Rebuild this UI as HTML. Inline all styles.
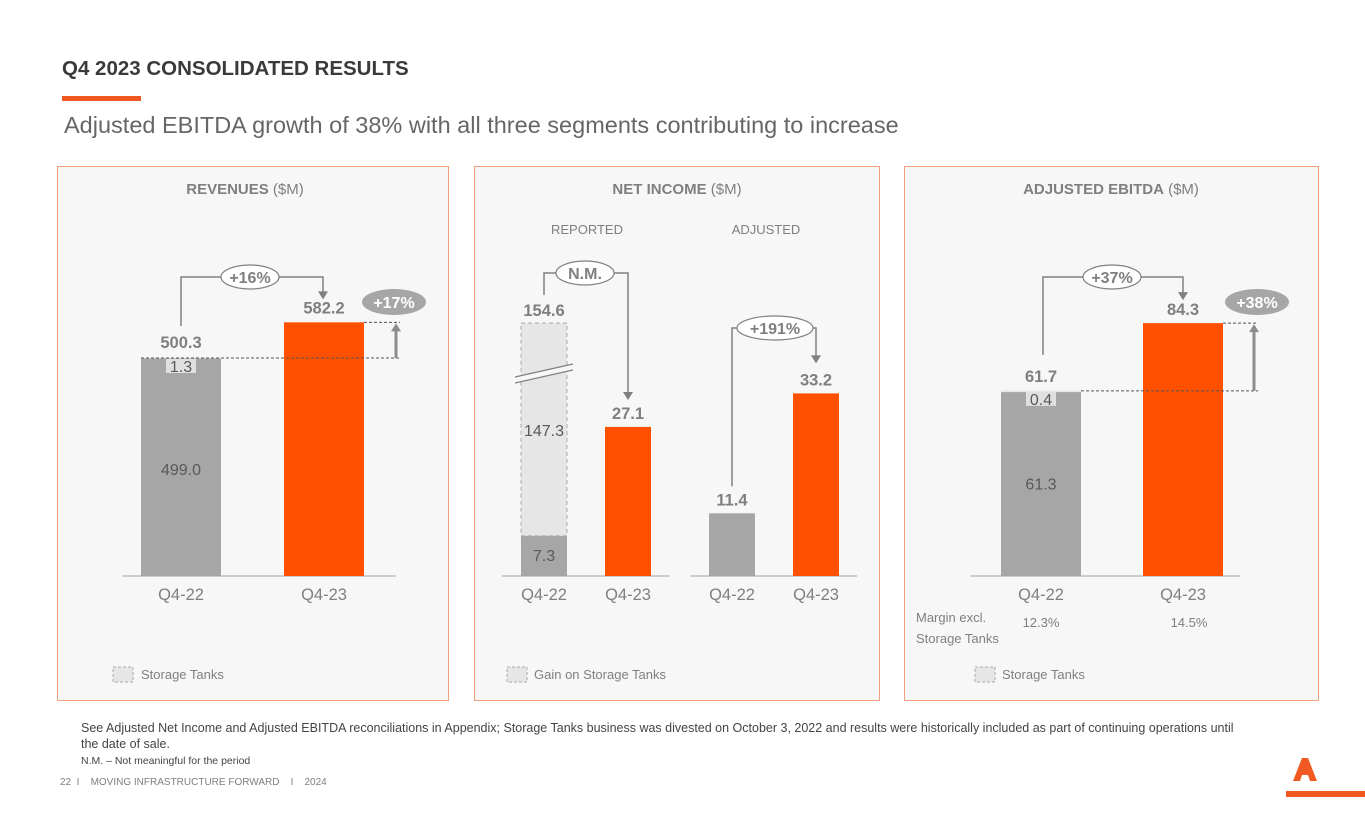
<!DOCTYPE html>
<html><head><meta charset="utf-8"><style>
body{margin:0;width:1365px;height:829px;background:#fff;overflow:hidden;font-family:"Liberation Sans",sans-serif}
svg text{font-family:"Liberation Sans",sans-serif}
</style></head><body>
<svg id="s" width="1365" height="829" viewBox="0 0 1365 829">
<text x="62" y="75" font-size="20.5" font-weight="bold" fill="#3a3a3a">Q4 2023 CONSOLIDATED RESULTS</text>
<rect x="62" y="96" width="79" height="5" fill="#f05a22"/>
<text x="64" y="133" font-size="23.5" fill="#666">Adjusted EBITDA growth of 38% with all three segments contributing to increase</text>

<rect x="57.5" y="166.5" width="391" height="534" fill="#f7f7f7" stroke="#f0a07a"/>
<rect x="474.5" y="166.5" width="405" height="534" fill="#f7f7f7" stroke="#f0a07a"/>
<rect x="904.5" y="166.5" width="414" height="534" fill="#f7f7f7" stroke="#f0a07a"/>

<text x="245" y="194" font-size="15" text-anchor="middle" fill="#7f7f7f"><tspan font-weight="bold">REVENUES</tspan> ($M)</text>
<text x="677" y="194" font-size="15" text-anchor="middle" fill="#7f7f7f"><tspan font-weight="bold">NET INCOME</tspan> ($M)</text>
<text x="1111" y="194" font-size="15" text-anchor="middle" fill="#7f7f7f"><tspan font-weight="bold">ADJUSTED EBITDA</tspan> ($M)</text>
<text x="587" y="234" font-size="13" text-anchor="middle" fill="#7f7f7f">REPORTED</text>
<text x="766" y="234" font-size="13" text-anchor="middle" fill="#7f7f7f">ADJUSTED</text>

<g id="marks"></g>

<text x="916" y="622" font-size="13" fill="#7f7f7f">Margin excl.</text>
<text x="916" y="643" font-size="13" fill="#7f7f7f">Storage Tanks</text>

<rect x="113" y="667" width="20" height="15" fill="#e6e6e6" stroke="#aaa" stroke-dasharray="3,2"/>
<text x="141" y="679" font-size="13" fill="#7f7f7f">Storage Tanks</text>
<rect x="507" y="667" width="20" height="15" fill="#e6e6e6" stroke="#aaa" stroke-dasharray="3,2"/>
<text x="534" y="679" font-size="13" fill="#7f7f7f">Gain on Storage Tanks</text>
<rect x="975" y="667" width="20" height="15" fill="#e6e6e6" stroke="#aaa" stroke-dasharray="3,2"/>
<text x="1002" y="679" font-size="13" fill="#7f7f7f">Storage Tanks</text>

<text x="81" y="732" font-size="12.5" fill="#444">See Adjusted Net Income and Adjusted EBITDA reconciliations in Appendix; Storage Tanks business was divested on October 3, 2022 and results were historically included as part of continuing operations until</text>
<text x="81" y="748" font-size="12.5" fill="#444">the date of sale.</text>
<text x="81" y="764" font-size="10.5" fill="#444">N.M. – Not meaningful for the period</text>
<text x="60" y="785" font-size="10" fill="#7f7f7f" xml:space="preserve" style="white-space:pre">22  I    MOVING INFRASTRUCTURE FORWARD    I    2024</text>
<polygon points="1293,781 1302,758 1308,758 1317,781 1310,781 1308,775 1302,775 1300,781" fill="#f05a22"/>
<rect x="1286" y="791" width="79" height="6" fill="#f05a22"/>
</svg>
<script>
const cats=["Q4-22","Q4-23"];
const revValues=[500.3,582.2];
const revStorage=[1.3,0];
const revGrowth=["+16%","+17%"];
const repValues=[7.3,27.1];
const repGain=[147.3,0];
const adjValues=[11.4,33.2];
const niGrowth=["N.M.","+191%"];
const ebitdaValues=[61.7,84.3];
const ebitdaStorage=[0.4,0];
const ebitdaGrowth=["+37%","+38%"];
const margins=["12.3%","14.5%"];

const NS="http://www.w3.org/2000/svg";
const G=document.getElementById('marks');
const BASE=576;
function mk(tag,a,txt){const e=document.createElementNS(NS,tag);for(const k in a)e.setAttribute(k,a[k]);if(txt!==undefined)e.textContent=txt;G.appendChild(e);return e;}
const yRev=v=>BASE-v*0.4357;
const yNI=v=>BASE-v*5.5;
const yEb=v=>BASE-v*3.0;
const GREY="#a6a6a6",OR="#ff5000",TX="#7f7f7f";

function axis(x1,x2,name){const e=mk('line',{x1:x1,x2:x2,y1:BASE,y2:BASE,stroke:'#bfbfbf','stroke-width':1.5});

}
function catLabel(x,t){const e=mk('text',{x:x,y:600,'font-size':16.5,'text-anchor':'middle',fill:TX},t);

}
function bar(x,w,top,col,name){const e=mk('rect',{x:x,y:top,width:w,height:BASE-top,fill:col});

}
function val(x,y,t,name,bold,size){const e=mk('text',{x:x,y:y,'font-size':size||16.5,'font-weight':bold===false?'normal':'bold','text-anchor':'middle',fill:bold===false?'#595959':TX},t);

}
function bracket(x1,y1,x2,y2,ytop,cx,rx,label,name){
 const p=mk('path',{d:`M${x1},${y1}V${ytop}H${cx-rx}M${cx+rx},${ytop}H${x2}V${y2-7}`,fill:'none',stroke:'#808080','stroke-width':1.5});
 
 
 const a=mk('polygon',{points:`${x2-5},${y2-8} ${x2+5},${y2-8} ${x2},${y2}`,fill:'#808080'});
 
 
 const el=mk('ellipse',{cx:cx,cy:ytop,rx:rx,ry:12,fill:'#fff',stroke:'#808080','stroke-width':1.2});
 
 
 const t=mk('text',{x:cx,y:ytop+6,'font-size':16,'font-weight':'bold','text-anchor':'middle',fill:TX},label);
 
 }
function bigArrow(x,yLow,yHigh,xl1,xl2,cx,label,name){
 const d1=mk('line',{x1:xl1,x2:x+4,y1:yLow,y2:yLow,stroke:'#555','stroke-dasharray':'3,2'});
 
 
 const d2=mk('line',{x1:xl2,x2:x+4,y1:yHigh,y2:yHigh,stroke:'#555','stroke-dasharray':'3,2'});
 
 
 const l=mk('line',{x1:x,x2:x,y1:yLow,y2:yHigh+8,stroke:'#8c8c8c','stroke-width':3});
 
 
 const a=mk('polygon',{points:`${x-5},${yHigh+9} ${x+5},${yHigh+9} ${x},${yHigh+1}`,fill:'#8c8c8c'});
 
 
 const e=mk('ellipse',{cx:cx,cy:302,rx:32,ry:13,fill:'#a6a6a6'});
 
 
 const t=mk('text',{x:cx,y:308,'font-size':16,'font-weight':'bold','text-anchor':'middle',fill:'#fff'},label);
 
 }

// Revenues
axis(122,396,'revenues-axis');
{const xs=[141,284],w=80;
 const t0=yRev(revValues[0]),t1=yRev(revValues[1]);
 bar(xs[0],w,t0,GREY,'bar-rev-q4-22');
 bar(xs[1],w,t1,OR,'bar-rev-q4-23');
 const st=mk('rect',{x:xs[0],y:t0,width:w,height:revStorage[0]*0.4357,fill:'#e6e6e6'});
 
 
 const lb=mk('rect',{x:166,y:t0+1,width:30,height:14,fill:'#e0e0e0'});
 
 
 val(181,t0+14,revStorage[0].toFixed(1),'rev-storage-value',false,16);
 val(181,(t0+BASE)/2+8,(revValues[0]-revStorage[0]).toFixed(1),'rev-core-value',false,16);
 val(181,t0-10,revValues[0].toFixed(1),'rev-q4-22-value');
 val(324,t1-9,revValues[1].toFixed(1),'rev-q4-23-value');
 bracket(181,t0-32,323,t1-23,277,250,29,revGrowth[0],'rev-growth');
 bigArrow(396,t0,t1,141,364,394,revGrowth[1],'rev-excl-growth');
 catLabel(181,cats[0]);catLabel(324,cats[1]);}

// Net income
axis(502,670,'reported-axis');axis(690,857,'adjusted-axis');
{const w=46;
 const t0=yNI(repValues[0]),t1=yNI(repValues[1]),a0=yNI(adjValues[0]),a1=yNI(adjValues[1]);
 const gTop=323;
 const g=mk('rect',{x:521,y:gTop,width:w,height:t0-gTop,fill:'#e6e6e6',stroke:'#aaa','stroke-dasharray':'4,3'});
 
 
 const br=mk('polygon',{points:'515,377 573,364 573,370 515,383',fill:'#f7f7f7'});
 
 
 const b1=mk('line',{x1:515,y1:377,x2:573,y2:364,stroke:'#808080','stroke-width':1.2});
 
 
 const b2=mk('line',{x1:515,y1:383,x2:573,y2:370,stroke:'#808080','stroke-width':1.2});
 
 
 bar(521,w,t0,GREY,'bar-reported-q4-22');
 bar(605,w,t1,OR,'bar-reported-q4-23');
 bar(709,w,a0,GREY,'bar-adjusted-q4-22');
 bar(793,w,a1,OR,'bar-adjusted-q4-23');
 val(544,t0+25,repValues[0].toFixed(1),'reported-core-value',false,16);
 val(544,436,repGain[0].toFixed(1),'gain-value',false,16);
 val(544,gTop-7,(repValues[0]+repGain[0]).toFixed(1),'reported-q4-22-value');
 val(628,t1-8,repValues[1].toFixed(1),'reported-q4-23-value');
 val(732,a0-8,adjValues[0].toFixed(1),'adjusted-q4-22-value');
 val(816,a1-8,adjValues[1].toFixed(1),'adjusted-q4-23-value');
 bracket(544,gTop-28,628,t1-27,273,585,29,niGrowth[0],'reported-growth');
 bracket(732,a0-27,816,a1-30,328,775,38,niGrowth[1],'adjusted-growth');
 catLabel(544,cats[0]);catLabel(628,cats[1]);catLabel(732,cats[0]);catLabel(816,cats[1]);}

// EBITDA
axis(970,1240,'ebitda-axis');
{const xs=[1001,1143],w=80;
 const t0=yEb(ebitdaValues[0]),t1=yEb(ebitdaValues[1]);
 bar(xs[0],w,t0,GREY,'bar-ebitda-q4-22');
 bar(xs[1],w,t1,OR,'bar-ebitda-q4-23');
 const st=mk('rect',{x:xs[0],y:t0,width:w,height:ebitdaStorage[0]*3,fill:'#e6e6e6'});
 
 
 const lb=mk('rect',{x:1026,y:t0+1,width:30,height:14,fill:'#e0e0e0'});
 
 
 val(1041,t0+14,ebitdaStorage[0].toFixed(1),'ebitda-storage-value',false,16);
 val(1041,(t0+BASE)/2+6,(ebitdaValues[0]-ebitdaStorage[0]).toFixed(1),'ebitda-core-value',false,16);
 val(1041,t0-9,ebitdaValues[0].toFixed(1),'ebitda-q4-22-value');
 val(1183,t1-8,ebitdaValues[1].toFixed(1),'ebitda-q4-23-value');
 bracket(1043,t0-36,1183,t1-23,277,1112,29,ebitdaGrowth[0],'ebitda-growth');
 bigArrow(1254,t0,t1,1081,1223,1257,ebitdaGrowth[1],'ebitda-excl-growth');
 catLabel(1041,cats[0]);catLabel(1183,cats[1]);
 const m0=mk('text',{x:1041,y:627,'font-size':13,'text-anchor':'middle',fill:TX},margins[0]);
 
 
 const m1=mk('text',{x:1189,y:627,'font-size':13,'text-anchor':'middle',fill:TX},margins[1]);
 
 }
</script>
</body></html>
